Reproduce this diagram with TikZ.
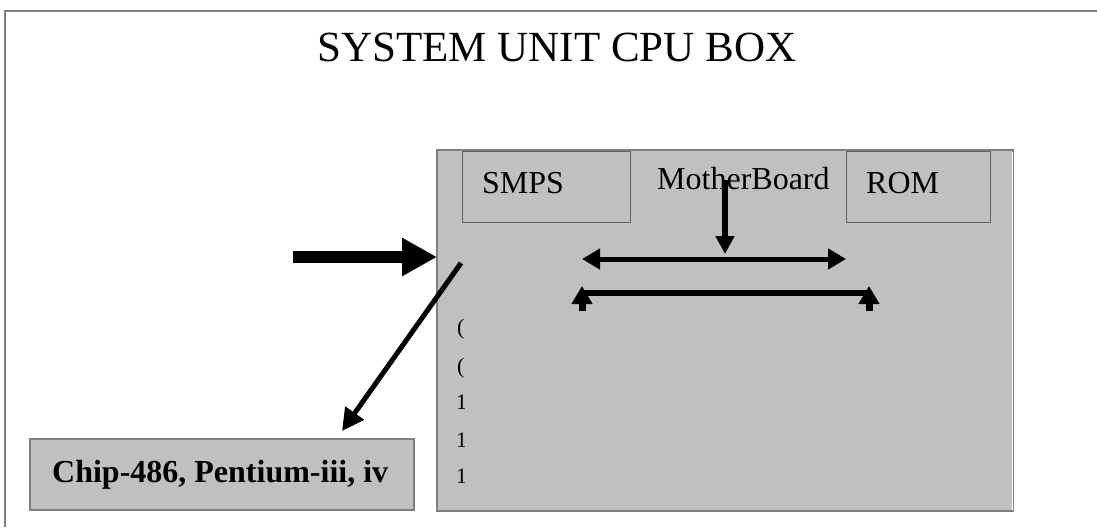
\documentclass[tikz,border=0pt]{standalone}
\usepackage{fontspec}
\setmainfont{Liberation Serif}
\usetikzlibrary{arrows.meta}
\definecolor{boardgrey}{HTML}{C0C0C0}
\definecolor{edgegrey}{HTML}{808080}
\definecolor{darkedge}{HTML}{606060}
\tikzset{
  panel/.style={draw=edgegrey, line width=1.5pt, fill=boardgrey, minimum width=#1, inner sep=0pt},
  subbox/.style={draw=darkedge, line width=1pt, minimum height=71pt, inner sep=0pt},
  lbl/.style={font=\fontsize{32}{36}\selectfont, inner sep=0pt, anchor=base west},
  bigarrow/.style={line width=12pt, -{Triangle[length=35pt,width=36pt]}},
  medarrow/.style={line width=5pt, -{Triangle[length=22pt,width=22pt]}},
  twoway/.style={line width=5pt, {Triangle[length=18pt,width=20pt]}-{Triangle[length=18pt,width=20pt]}},
  downarrow/.style={line width=6pt, -{Triangle[length=18pt,width=18pt]}},
  uparrow/.style={line width=7pt, -{Triangle[length=18pt,width=20pt]}},
  barline/.style={line width=6pt},
  framelines/.style={draw=edgegrey, line width=2pt},
  tiny/.style={font=\fontsize{22}{24}\selectfont, inner sep=0pt, anchor=base west}
}
\begin{document}
\begin{tikzpicture}[x=1pt,y=-1pt]
\useasboundingbox (0,0) rectangle (1097,531);
% outer frame (top and left edges visible)
\coordinate (ftl) at (5,11);
\coordinate (ftr) at (1097,11);
\coordinate (fbl) at (5,527);
\draw[framelines] (fbl) -- (ftl) -- (ftr);
% title
\node[font=\fontsize{43}{48}\selectfont, inner sep=0pt, anchor=base] (title) at (557,61) {SYSTEM UNIT CPU BOX};
% motherboard panel
\node[panel=576pt, minimum height=361pt] (board) at (725,330.5) {};
\draw[white, line width=1pt] (1012,152) -- (1012,510);
% SMPS and ROM boxes
\node[subbox, minimum width=168pt] (smps) at (546,186.5) {};
\node[subbox, minimum width=144pt] (rom) at (918,186.5) {};
\node[lbl] (smpst) at (482,193) {SMPS};
\node[lbl] (mbt) at (657,189) {MotherBoard};
\node[lbl] (romt) at (866,193) {ROM};
% chip box
\node[panel=384pt, minimum height=71pt] (chip) at (222,474.5) {};
\node[lbl, font=\fontsize{32}{36}\selectfont\bfseries] (chipt) at (52,482) {Chip-486, Pentium-iii, iv};
% clipped glyphs at left of panel
\begin{scope}
\clip (458,300) rectangle (464,495);
\node[tiny] (g1) at (457,334) {(};
\node[tiny] (g2) at (457,373) {(};
\node[tiny] (g3) at (456,409) {1};
\node[tiny] (g4) at (456,447) {1};
\node[tiny] (g5) at (456,483) {1};
\end{scope}
% arrows
\coordinate (bigstart) at (293,257);
\coordinate (bigend) at (437,257);
\draw[bigarrow] (bigstart) -- (bigend);
\coordinate (diagstart) at (461,263);
\coordinate (diagend) at (342,431);
\draw[medarrow] (diagstart) -- (diagend);
\coordinate (vtop) at (725,180);
\coordinate (vbot) at (725,254);
\draw[downarrow] (vtop) -- (vbot);
\coordinate (hl) at (582,259);
\coordinate (hr) at (846,259);
\draw[twoway] (hl) -- (hr);
\coordinate (bl) at (582,293);
\coordinate (br) at (869,293);
\draw[barline] (bl) -- (br);
\coordinate (ul0) at (582,311);
\coordinate (ul1) at (582,286);
\coordinate (ur0) at (869,311);
\coordinate (ur1) at (869,286);
\draw[uparrow] (ul0) -- (ul1);
\draw[uparrow] (ur0) -- (ur1);
\end{tikzpicture}
\end{document}
